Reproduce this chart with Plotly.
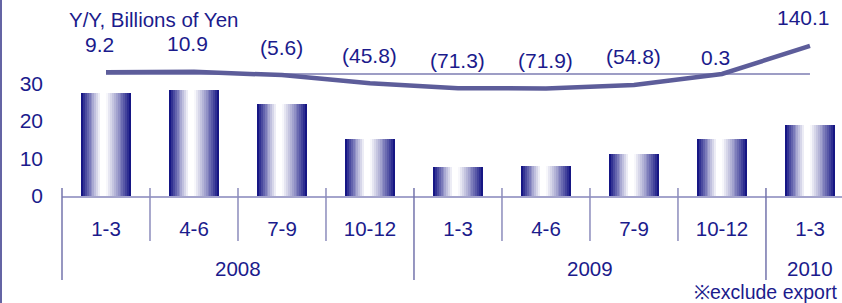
import plotly.graph_objects as go

# ---------------- data ----------------
years = ["2008", "2008", "2008", "2008", "2009", "2009", "2009", "2009", "2010"]
quarters = ["1-3", "4-6", "7-9", "10-12", "1-3", "4-6", "7-9", "10-12", "1-3"]
sales = [27.3, 28.2, 24.5, 15.2, 7.85, 7.9, 11.05, 15.25, 18.85]      # billions of yen
yoy = [9.2, 10.9, -5.6, -45.8, -71.3, -71.9, -54.8, 0.3, 140.1]       # Y/Y %
y_ticks = [0, 10, 20, 30]
title_text = "Y/Y, Billions of Yen"
note_text = "※exclude export"

# ---------------- layout geometry ----------------
W, H = 842, 303
ML, MR, MT, MB = 62, 0, 0, 107
PW, PH = W - ML - MR, H - MT - MB
X_RANGE = [-0.5, 8.364]
Y_RANGE = [0, 52.17]
Y2_RANGE = [-610, 370]

NAVY = (6, 6, 124)
TEXT = "#1b1b8c"
FONT = "Liberation Sans, Arial, sans-serif"


def xp(idx):
    """category index -> paper x"""
    return (idx - X_RANGE[0]) / (X_RANGE[1] - X_RANGE[0])


def px_x(p):
    return (p - ML) / PW


def px_y(p):
    return 1 - (p - MT) / PH


def shade(t):
    # whiteness profile across the bar (0 = left edge, 1 = right edge)
    if t < 0.40:
        w = (t / 0.40) ** 0.9
    elif t < 0.50:
        w = 1.0
    else:
        w = ((1 - t) / 0.50) ** 0.85
    r, g, b = (int(round(c + (255 - c) * w)) for c in NAVY)
    return f"rgb({r},{g},{b})"


# unique category keys (year + quarter); quarter shown as tick text
keys = [f"{y} {q}" for y, q in zip(years, quarters)]

fig = go.Figure()

# gradient bars built from overlaid stripes
BAR_W = 0.57
N = 26
step = BAR_W / N
for i in range(N):
    t = (i + 0.5) / N
    fig.add_trace(go.Bar(
        x=keys, y=sales,
        width=BAR_W - i * step, offset=-BAR_W / 2 + i * step,
        marker=dict(color=shade(t), line=dict(width=0)),
        showlegend=False, hoverinfo="skip",
    ))

# Y/Y line on secondary axis
fig.add_trace(go.Scatter(
    x=keys, y=yoy, yaxis="y2", mode="lines",
    line=dict(color="#5d5d9a", width=4.5),
    showlegend=False, hoverinfo="skip",
))

shapes = []
# zero reference line of Y/Y
shapes.append(dict(type="line", xref="paper", yref="y2",
                   x0=xp(0), x1=xp(len(yoy) - 1), y0=0, y1=0,
                   line=dict(color="#7d7db2", width=1.5), layer="below"))
# category boundaries
for i in range(len(quarters)):
    b = i - 0.5
    is_year = i == 0 or years[i] != years[i - 1]
    shapes.append(dict(type="line", xref="paper", yref="paper",
                       x0=xp(b), x1=xp(b), y0=px_y(188),
                       y1=px_y(280 if is_year else 241),
                       line=dict(color="#7474ac" if is_year else "#8c8cbc", width=1.5)))
# left frame line
shapes.append(dict(type="line", xref="paper", yref="paper",
                   x0=px_x(1), x1=px_x(1), y0=px_y(0), y1=px_y(H),
                   line=dict(color="#6464a4", width=2)))

annotations = []
for i, v in enumerate(yoy):
    txt = f"{v:.1f}" if v >= 0 else f"({abs(v):.1f})"
    annotations.append(dict(
        x=xp(i), xref="paper", y=v, yref="y2",
        text=txt, showarrow=False, yanchor="middle", xanchor="center",
        yshift=16 if abs(v) < 1 else 28, xshift=-6 if v >= 0 else 0,
        font=dict(family=FONT, size=21, color=TEXT),
    ))
# year group labels
for yr in dict.fromkeys(years):
    idx = [i for i, y in enumerate(years) if y == yr]
    annotations.append(dict(
        x=xp((idx[0] + idx[-1]) / 2), xref="paper", y=px_y(268.5), yref="paper",
        text=yr, showarrow=False, xanchor="center", yanchor="middle",
        font=dict(family=FONT, size=20.5, color=TEXT),
    ))
annotations.append(dict(x=px_x(67), y=px_y(19.7), xref="paper", yref="paper",
                        text=title_text, showarrow=False, xanchor="left", yanchor="middle",
                        font=dict(family=FONT, size=20.5, color=TEXT)))
annotations.append(dict(x=px_x(839), y=px_y(292), xref="paper", yref="paper",
                        text=note_text, showarrow=False, xanchor="right", yanchor="middle",
                        font=dict(family=FONT, size=19.5, color=TEXT)))

fig.update_layout(
    width=W, height=H,
    margin=dict(l=ML, r=MR, t=MT, b=MB, pad=0),
    paper_bgcolor="white", plot_bgcolor="white",
    barmode="overlay", bargap=0,
    font=dict(family=FONT, color=TEXT, size=21),
    xaxis=dict(type="category", range=X_RANGE, showline=True,
               tickvals=keys, ticktext=quarters,
               linecolor="#a4a4cc", linewidth=1.5, showgrid=False,
               ticks="", ticklabelstandoff=14, zeroline=False,
               tickfont=dict(family=FONT, size=20.5, color=TEXT)),
    yaxis=dict(range=Y_RANGE, tickvals=y_ticks, showgrid=False, zeroline=False,
               showline=False, ticks="", ticklabelstandoff=18,
               tickfont=dict(family=FONT, size=21, color=TEXT)),
    yaxis2=dict(range=Y2_RANGE, overlaying="y", side="right", visible=False),
    shapes=shapes, annotations=annotations,
)

fig.write_html("out.html", config={"displayModeBar": False},
               post_script="document.body.style.margin='0';")
